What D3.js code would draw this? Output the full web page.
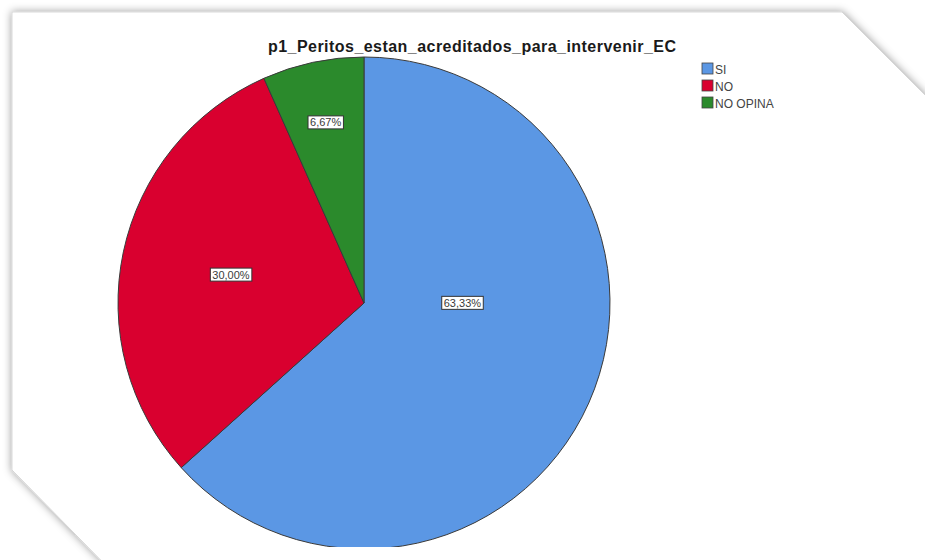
<!DOCTYPE html>
<html>
<head>
<meta charset="utf-8">
<script src="https://cdn.jsdelivr.net/npm/d3@7"></script>
<style>
  html, body { margin: 0; padding: 0; background: #ffffff; }
  svg { display: block; }
</style>
</head>
<body>
<svg id="chart" width="925" height="560"></svg>
<script>
// ---- data ----
const chartTitle = "p1_Peritos_estan_acreditados_para_intervenir_EC";
const categories = ["SI", "NO", "NO OPINA"];
const percentages = [63.33, 30.00, 6.67];
const sliceColors = ["#5b97e4", "#d9002f", "#2b8a2c"];

// ---- layout ----
const W = 925, H = 560;
const cx = 364, cy = 303, R = 246;

const svg = d3.select("#chart");

// frame with soft shadow
const defs = svg.append("defs");
const f = defs.append("filter").attr("id", "shadow")
  .attr("x", "-10%").attr("y", "-10%").attr("width", "120%").attr("height", "120%");
f.append("feDropShadow").attr("dx", 0).attr("dy", 0)
  .attr("stdDeviation", 4).attr("flood-color", "#000").attr("flood-opacity", 0.4);

defs.append("clipPath").attr("id", "plotclip")
  .append("rect").attr("x", 0).attr("y", 0).attr("width", W).attr("height", 547);

svg.append("rect").attr("width", W).attr("height", H).attr("fill", "#ffffff");

const framePts = [[12, 12], [842, 12], [940, 110], [940, 600], [140, 600], [12, 470]];
svg.append("path")
  .attr("d", d3.line()(framePts) + "Z")
  .attr("fill", "#ffffff")
  .attr("stroke", "#cfcfcf")
  .attr("stroke-width", 0.8)
  .attr("filter", "url(#shadow)");

// title
svg.append("text")
  .attr("x", 472).attr("y", 52)
  .attr("text-anchor", "middle")
  .attr("font-family", "Liberation Sans, Arial, sans-serif")
  .attr("font-weight", "bold")
  .attr("font-size", 16)
  .attr("textLength", 408)
  .attr("lengthAdjust", "spacing")
  .attr("fill", "#1a1a1a")
  .text(chartTitle);

// pie
const data = categories.map((c, i) => ({ cat: c, value: percentages[i], color: sliceColors[i] }));
const pie = d3.pie().value(d => d.value).sort(null);
const arcs = pie(data);
const arc = d3.arc().innerRadius(0).outerRadius(R);

const g = svg.append("g").attr("clip-path", "url(#plotclip)")
  .append("g").attr("transform", `translate(${cx},${cy})`);

g.selectAll("path.slice")
  .data(arcs)
  .join("path")
  .attr("class", "slice")
  .attr("d", arc)
  .attr("fill", d => d.data.color)
  .attr("stroke", "#3a3a3a")
  .attr("stroke-width", 1)
  .attr("stroke-linejoin", "round");

// labels: centre of the largest inscribed circle of each slice (capped)
const fmt = v => d3.format(".2f")(v).replace(".", ",") + "%";
const labelG = g.selectAll("g.lbl")
  .data(arcs)
  .join("g")
  .attr("class", "lbl")
  .attr("transform", d => {
    const span = d.endAngle - d.startAngle;
    let ang, dist;
    if (span < Math.PI) {
      ang = (d.startAngle + d.endAngle) / 2;
      dist = Math.min(R / (1 + Math.sin(span / 2)), 0.75 * R);
    } else {
      ang = d.startAngle + Math.PI / 2;
      dist = 0.4 * R;
    }
    const x = dist * Math.sin(ang), y = -dist * Math.cos(ang);
    return `translate(${x},${y})`;
  });

labelG.append("text")
  .attr("text-anchor", "middle")
  .attr("dy", "0.35em")
  .attr("font-family", "Liberation Sans, Arial, sans-serif")
  .attr("font-size", 11)
  .attr("fill", "#3a3a3a")
  .text(d => fmt(d.data.value));

labelG.each(function() {
  const t = d3.select(this).select("text");
  const bb = t.node().getBBox();
  d3.select(this).insert("rect", "text")
    .attr("x", bb.x - 2).attr("y", bb.y - 0.5)
    .attr("width", bb.width + 4).attr("height", bb.height + 1)
    .attr("fill", "#ffffff")
    .attr("stroke", "#333")
    .attr("stroke-width", 1);
});

// legend
const legend = svg.append("g").attr("transform", "translate(702,63)");
const li = legend.selectAll("g")
  .data(data)
  .join("g")
  .attr("transform", (d, i) => `translate(0,${i * 17})`);
li.append("rect")
  .attr("width", 11).attr("height", 11)
  .attr("fill", d => d.color)
  .attr("stroke", "#444").attr("stroke-width", 0.8);
li.append("text")
  .attr("x", 13).attr("y", 10.5)
  .attr("font-family", "Liberation Sans, Arial, sans-serif")
  .attr("font-size", 12)
  .attr("fill", "#444")
  .text(d => d.cat);
</script>
</body>
</html>
